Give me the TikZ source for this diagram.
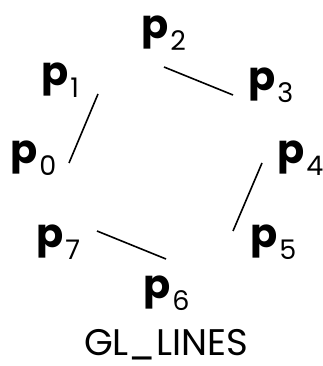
\documentclass[tikz,border=0pt]{standalone}
\usepackage{fontspec}
\setmainfont{Poppins}
\tikzset{
  lbl/.style={inner sep=0pt, anchor=base west, font=\fontsize{40}{40}\selectfont},
  seg/.style={line width=1.6pt, black},
}
\newcommand{\plab}[1]{\textbf{p}\hspace{2pt}\raisebox{-12pt}{\fontsize{27}{27}\selectfont #1}}
\begin{document}
\begin{tikzpicture}[x=1pt,y=-1pt]
\useasboundingbox (0,0) rectangle (322,366);
\node[lbl] (p0) at (10,164) {\plab{0}};
\node[lbl] (p1) at (41,86) {\plab{1}};
\node[lbl] (p2) at (141,39) {\plab{2}};
\node[lbl] (p3) at (248,91) {\plab{3}};
\node[lbl] (p4) at (277,164) {\plab{4}};
\node[lbl] (p5) at (250,247) {\plab{5}};
\node[lbl] (p6) at (143,298) {\plab{6}};
\node[lbl] (p7) at (36,247) {\plab{7}};
\node[inner sep=0pt, anchor=base, font=\fontsize{37}{37}\selectfont] (t) at (166,355) {GL\_LINES};
\coordinate (a0) at (69,163); \coordinate (a1) at (98,94);
\coordinate (b2) at (164,67); \coordinate (b3) at (233,95);
\coordinate (c4) at (262,163); \coordinate (c5) at (233,231);
\coordinate (d6) at (166,259); \coordinate (d7) at (97,231);
\draw[seg] (a0) -- (a1);
\draw[seg] (b2) -- (b3);
\draw[seg] (c4) -- (c5);
\draw[seg] (d7) -- (d6);
\end{tikzpicture}
\end{document}
